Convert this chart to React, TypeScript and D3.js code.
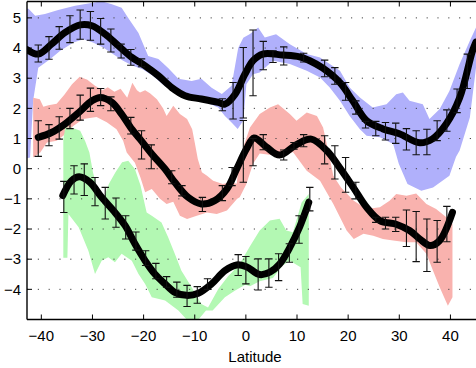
import React from 'react';
import * as d3 from 'd3';

type Pt = [number, number];
type Bar = [number, number, number];

// x ticks / y ticks
const xTicks = [-40, -30, -20, -10, 0, 10, 20, 30, 40];
const yTicks = [-4, -3, -2, -1, 0, 1, 2, 3, 4, 5];

// shaded envelopes (upper edge left->right, lower edge left->right)
const blueUpper: Pt[] = [
  [-42.8, 5.3], [-42.5, 5.3], [-41.2, 5.07], [-39.3, 5.13], [-36.7, 5.26], [-33.4, 5.4], [-28.2, 5.55],
  [-26.2, 5.45], [-24.3, 5.34], [-23, 5.0], [-21, 4.5], [-19.1, 3.74], [-17.1, 3.64], [-15.2, 3.34],
  [-13.2, 2.98], [-10.6, 2.91], [-8.7, 2.98], [-6.7, 2.68], [-4.7, 2.48], [-2.8, 2.75], [-1.5, 4.0],
  [-0.5, 4.34], [0.8, 4.47], [2.4, 4.68], [3.7, 4.35], [5.9, 4.46], [8.6, 4.13], [11.9, 3.8],
  [14.5, 3.69], [16.4, 3.47], [18.4, 3.25], [20.3, 2.69], [22.3, 2.36], [24.8, 2.03], [27.5, 2.14],
  [29.4, 2.47], [30.7, 2.53], [32, 2.25], [34.6, 2.14], [35.9, 1.65], [37.9, 1.98], [39.8, 2.58],
  [41.8, 3.47], [43.8, 4.24], [45, 4.68],
];
const blueLower: Pt[] = [
  [-42.8, 0.35], [-42.2, 0.37], [-41.6, 2.25], [-40.6, 3.35], [-38.3, 3.63], [-36.3, 3.91], [-33.7, 4.18],
  [-31.8, 4.29], [-29.9, 4.18], [-27.9, 4.02], [-26, 3.8], [-24, 3.58], [-22.1, 3.41], [-20.2, 3.3],
  [-18.2, 3.08], [-16.3, 2.8], [-14.3, 2.58], [-11.9, 2.42], [-8.6, 2.25], [-5.4, 2.03], [-4.1, 1.75],
  [-2.8, 1.53], [-1.6, 1.32], [-0.5, 1.6], [0.1, 2.8], [1.4, 3.13], [2.7, 3.19], [5.3, 3.58],
  [8.6, 3.47], [11.9, 3.25], [14.5, 3.02], [16.4, 2.69], [18.4, 2.25], [20.3, 1.75], [22.3, 1.31],
  [23.6, 1.09], [26.2, 1.04], [28.8, 0.82], [29.9, 0.16], [31.6, -0.51], [34.3, -0.73], [36.6, -0.62],
  [39.8, -0.23], [41.1, 0.4], [41.8, 0.6], [43.8, 1.7], [45, 3.35],
];

const redUpper: Pt[] = [
  [-41.6, 2.35], [-40.3, 2.3], [-39.6, 2.05], [-38.6, 2.1], [-37, 2.15], [-35.5, 2.45], [-34, 2.8],
  [-32.5, 3.05], [-31, 2.95], [-29.5, 2.75], [-28, 2.6], [-27, 2.7], [-25.7, 2.55], [-24.5, 2.65],
  [-23.2, 2.35], [-22.2, 2.85], [-21.3, 2.6], [-20.7, 2.53], [-19.7, 2.6], [-18.75, 2.5], [-17.4, 2.3],
  [-16.2, 2.0], [-15.5, 1.75], [-14.2, 2.09], [-12.9, 1.81], [-11.5, 1.65], [-10.5, 1.31], [-10, 0.87],
  [-9.4, 0.32], [-8.6, -0.12], [-7.6, -0.23], [-6.4, -0.4], [-4.5, -0.51], [-3.1, -0.45], [-1.8, -0.5],
  [-1.2, 0.37], [0.8, 1.37], [2.7, 1.81], [4.7, 2.03], [6.3, 2.14], [8.6, 1.81], [9.9, 1.59],
  [11.9, 1.86], [13.9, 1.75], [15.1, 1.37], [16.1, 0.6], [17.1, -0.23], [18.6, -0.62], [21.1, -1.06],
  [23.6, -1.34], [26.2, -1.28], [28.1, -1.06], [29.4, -0.84], [31.4, -0.9], [33.3, -0.82], [35.3, -1.17],
  [37.2, -1.34], [39.2, -1.61], [40.4, -1.83],
];
const redLower: Pt[] = [
  [-41.6, 0.37], [-40.2, 0.54], [-38.9, 0.87], [-37, 0.93], [-35.7, 1.09], [-33.7, 1.42], [-31.8, 1.65],
  [-29.2, 1.71], [-27.2, 1.54], [-25.3, 1.31], [-24, 0.93], [-23.3, 0.54], [-21.7, 0.2], [-20.6, -0.3],
  [-19.7, -0.78], [-18.4, -0.67], [-16.8, -1.0], [-15.5, -1.17], [-14.2, -1.1], [-12.9, -1.56],
  [-11.5, -1.67], [-9.6, -1.56], [-7.6, -1.45], [-5.7, -1.5], [-3.7, -1.39], [-1.7, -1.0], [-1.2, -0.95],
  [0.1, -0.51], [1.4, 0.16], [2.7, 0.5], [5, 0.45], [7.5, 0.45], [9.2, 0.55], [11.9, -0.07],
  [14.5, -0.4], [17.1, -1.17], [19.7, -2.05], [21.1, -2.33], [23, -2.16], [24.9, -2.22], [26.8, -2.33],
  [28.8, -2.38], [31.4, -2.44], [33.3, -2.44], [35.3, -2.82], [36.6, -3.38], [37.9, -3.93], [39.5, -4.54],
  [40.4, -4.26],
];

const greenUpper: Pt[] = [
  [-35.7, 0.98], [-35.3, 1.37], [-34.1, 1.37], [-32.4, 1.26], [-31.4, 0.9], [-30.6, 0.54], [-29.9, -0.12],
  [-28.9, -0.78], [-28.2, -1.17], [-26.8, -0.51], [-25.5, -0.12], [-24.2, 0.21], [-23, 0.26],
  [-21.7, -0.01], [-20.6, -0.56], [-19.4, -1.45], [-18.4, -1.56], [-16.5, -1.78], [-15.2, -2.27],
  [-13.9, -2.82], [-12.6, -3.38], [-10.6, -3.93], [-8.7, -4.49], [-7.4, -4.6], [-5.4, -3.99],
  [-3.4, -3.55], [-1.4, -3.21], [0.8, -2.57], [2.7, -2.05], [4.7, -1.72], [6.6, -1.66], [7.9, -2.05],
  [9.2, -2.11], [10.9, -1.12], [12.3, -0.84],
];
const greenLower: Pt[] = [
  [-35.7, -2.95], [-34.9, -2.95], [-34.7, -1.5], [-32.7, -1.94], [-30.8, -2.72], [-29.5, -3.49],
  [-28.2, -3.05], [-26.9, -2.94], [-25.6, -3.1], [-24.3, -2.82], [-22.3, -3.05], [-21, -3.49],
  [-19.7, -3.82], [-18.4, -4.26], [-15.8, -4.37], [-13.2, -4.7], [-11.3, -5.05], [-9.5, -5.05],
  [-7.8, -4.7], [-6.5, -4.7], [-4.1, -4.26], [-2.1, -4.04], [-0.1, -3.85], [0.8, -3.9], [2.7, -3.73],
  [5.3, -3.62], [7.2, -3.21], [8.6, -3.05], [10.7, -3.27], [11.1, -4.49], [12.3, -4.54],
];

// smoothed curves
const blueLine: Pt[] = [
  [-42.8, 3.95], [-40.6, 3.8], [-38, 4.13], [-35.4, 4.51], [-32.4, 4.77], [-30.1, 4.74], [-27.5, 4.46],
  [-24.9, 4.07], [-22.3, 3.69], [-19.7, 3.41], [-17.1, 3.08], [-14.5, 2.69], [-11.9, 2.42], [-8.7, 2.31],
  [-5.4, 2.2], [-4.1, 2.14], [-2.1, 2.47], [-0.2, 3.13], [1.4, 3.58], [3.3, 3.8], [7.2, 3.77],
  [10.5, 3.71], [12.5, 3.58], [15, 3.34], [18.4, 2.85], [20.9, 2.25], [23.6, 1.59], [26.8, 1.32],
  [30, 1.16], [34, 0.86], [36.5, 0.99], [39.2, 1.49], [41.8, 2.35], [44.3, 3.9], [45, 4.2],
];
const redLine: Pt[] = [
  [-40.6, 1.04], [-38, 1.2], [-35.4, 1.48], [-32.7, 1.86], [-30.1, 2.25], [-28.5, 2.36], [-26.2, 2.2],
  [-24.3, 1.81], [-22.3, 1.31], [-20.7, 0.98], [-18.4, 0.49], [-15.8, -0.01], [-13.9, -0.45],
  [-11.3, -0.95], [-8.7, -1.17], [-6.1, -1.06], [-3.7, -0.67], [-1.8, -0.01], [0.1, 0.65], [1.6, 1.02],
  [4.0, 0.72], [6.6, 0.45], [9.9, 0.8], [12.8, 0.98], [15.8, 0.6], [18.4, 0.02], [21, -0.62],
  [23.6, -1.28], [26.2, -1.72], [29.5, -1.85], [32, -2.05], [34, -2.33], [36, -2.55], [37.9, -2.38],
  [40.4, -1.45],
];
const greenLine: Pt[] = [
  [-35.8, -0.89], [-34.1, -0.4], [-32.6, -0.27], [-30.5, -0.45], [-28.2, -0.95], [-25.6, -1.45],
  [-23.6, -1.89], [-21.7, -2.49], [-19.7, -3.05], [-17.8, -3.49], [-15.8, -3.82], [-13.9, -4.1],
  [-11.6, -4.2], [-9.3, -4.13], [-6.7, -3.82], [-4.1, -3.38], [-1.8, -3.19], [0.1, -3.25], [2.7, -3.51],
  [4.7, -3.43], [6.6, -3.16], [8.6, -2.61], [10.5, -1.94], [12.3, -1.12],
];

// error bars: [lat, low, high]
const blueBars: Bar[] = [
  [-40.6, 3.54, 4.1], [-38.5, 3.63, 4.38], [-36.5, 3.96, 4.71], [-34.4, 4.18, 5.07], [-32.4, 4.29, 5.26],
  [-30.4, 4.26, 5.21], [-28.4, 4.13, 4.98], [-26.4, 3.87, 4.63], [-24.4, 3.67, 4.13], [-22.5, 3.43, 3.95],
  [-20.4, 3.38, 3.64], [-4.6, 1.92, 2.32], [-2.5, 1.65, 2.86], [-0.5, 1.68, 4.02], [1.4, 2.42, 4.6],
  [3.4, 3.28, 4.22], [5.3, 3.52, 3.91], [7.4, 3.44, 4.04], [11.3, 3.54, 3.83], [15.4, 3.05, 3.6],
  [17.4, 2.8, 3.35], [19.5, 2.27, 2.86], [21.5, 1.81, 2.25], [23.4, 1.35, 1.57], [25.4, 1.09, 1.57],
  [27.3, 0.95, 1.53], [29.3, 0.84, 1.51], [31.4, 0.62, 1.33], [33.3, 0.46, 1.26], [35.4, 0.46, 1.31],
  [37.4, 0.93, 1.59], [39.3, 1.24, 1.95], [41.3, 1.86, 2.64], [43.3, 2.66, 3.8],
];
const redBars: Bar[] = [
  [-40.6, 0.41, 1.59], [-38.5, 0.76, 1.46], [-36.5, 0.98, 1.72], [-34.4, 1.33, 2.0], [-32.4, 1.61, 2.44],
  [-30.4, 1.9, 2.67], [-28.4, 2.09, 2.66], [-26.4, 1.92, 2.38], [-22.5, 1.15, 1.7], [-20.4, 0.32, 1.26],
  [-18.5, 0.0, 0.79], [-14.5, -0.5, -0.07], [-12.5, -0.9, -0.56], [-8.5, -1.42, -0.95], [-4.6, -1.06, -0.56],
  [-2.7, -0.56, 0.04], [-0.5, -0.45, 1.6], [1.4, 0.1, 1.0], [3.4, 0.63, 1.13], [7.4, 0.29, 0.62],
  [9.4, 0.65, 0.87], [11.3, 0.73, 1.13], [15.4, 0.16, 1.09], [17.4, -0.34, 0.76], [19.5, -0.78, 0.37],
  [21.5, -1.0, -0.45], [25.4, -1.78, -1.61], [27.3, -2.0, -1.61], [29.3, -2.08, -1.61], [31.4, -2.58, -1.37],
  [33.3, -3.08, -1.42], [35.4, -3.41, -1.67], [37.4, -3.1, -1.72], [39.3, -2.42, -1.25],
];
const greenBars: Bar[] = [
  [-35.6, -1.45, -0.42], [-33.6, -0.84, 0.1], [-31.6, -0.89, 0.16], [-29.5, -1.23, -0.29],
  [-27.5, -1.67, -0.62], [-25.4, -1.94, -0.97], [-23.5, -2.33, -1.56], [-21.5, -2.7, -2.1],
  [-19.6, -3.21, -2.72], [-17.6, -3.65, -3.14], [-15.5, -3.93, -3.58], [-13.5, -4.26, -3.76],
  [-11.5, -4.57, -3.87], [-9.5, -4.46, -3.91], [-7.5, -4.0, -3.65], [-1.5, -3.54, -2.85], [0, -3.82, -2.91],
  [2.4, -4.02, -2.99], [4.5, -3.93, -2.99], [6.4, -3.71, -2.82], [8.5, -3.1, -2.49], [10.4, -2.47, -1.56],
  [12.5, -1.4, -0.62],
];

const W = 476;
const H = 368;
const left = 27;
const right = 476;
const top = 1.5;
const bottom = 319.5;

const x = d3.scaleLinear().domain([-42.8, 45]).range([left, right]);
const y = d3.scaleLinear().domain([-5.0, 5.56]).range([bottom, 1]);

const bandPath = (up: Pt[], lo: Pt[]) => {
  const pts = up.concat(lo.slice().reverse());
  return d3.line<Pt>().x(d => x(d[0])).y(d => y(d[1]))(pts) + 'Z';
};
const curve = d3.line<Pt>().x(d => x(d[0])).y(d => y(d[1])).curve(d3.curveCatmullRom.alpha(0.5));

const fmt = (v: number) => (v < 0 ? '\u2212' + Math.abs(v) : String(v));
const font = '"Liberation Sans", Arial, Helvetica, sans-serif';

const ErrBars = ({ bars }: { bars: Bar[] }) => (
  <g stroke="#111" strokeWidth={1.1} fill="none">
    {bars.map((b, i) => {
      const cx = x(b[0]);
      return (
        <g key={i}>
          <line x1={cx} x2={cx} y1={y(b[1])} y2={y(b[2])} />
          <line x1={cx - 3.7} x2={cx + 3.7} y1={y(b[1])} y2={y(b[1])} />
          <line x1={cx - 3.7} x2={cx + 3.7} y1={y(b[2])} y2={y(b[2])} />
        </g>
      );
    })}
  </g>
);

export default function App() {
  return (
    <svg width={W} height={H} style={{ position: 'absolute', left: 0, top: 0, background: '#fff' }}>
      <defs>
        <clipPath id="plot">
          <rect x={left} y={top} width={right - left} height={bottom - top} />
        </clipPath>
      </defs>
      <g clipPath="url(#plot)">
        <path d={bandPath(blueUpper, blueLower)} fill="#b0b0fb" />
        <path d={bandPath(redUpper, redLower)} fill="#f9b2ae" />
        <path d={bandPath(greenUpper, greenLower)} fill="#b3f8b3" />
        {yTicks.map(t => (
          <line key={t} x1={left} x2={right} y1={y(t)} y2={y(t)} stroke="#444" strokeWidth={1} strokeDasharray="1.2 9.6" />
        ))}
        <path d={curve(blueLine) || ''} fill="none" stroke="#000" strokeWidth={7} strokeLinecap="round" />
        <path d={curve(redLine) || ''} fill="none" stroke="#000" strokeWidth={7} strokeLinecap="round" />
        <path d={curve(greenLine) || ''} fill="none" stroke="#000" strokeWidth={7} strokeLinecap="round" />
        <ErrBars bars={blueBars} />
        <ErrBars bars={redBars} />
        <ErrBars bars={greenBars} />
      </g>
      {/* frame */}
      <g stroke="#000" strokeWidth={1.4}>
        <line x1={left} x2={right} y1={bottom} y2={bottom} />
        <line x1={left} x2={right} y1={top} y2={top} />
        <line x1={left} x2={left} y1={top} y2={bottom} />
        {xTicks.map(t => (
          <g key={t}>
            <line x1={x(t)} x2={x(t)} y1={bottom} y2={bottom - 5} strokeWidth={1} />
            <line x1={x(t)} x2={x(t)} y1={top} y2={top + 5} strokeWidth={1} />
          </g>
        ))}
        {yTicks.map(t => (
          <line key={t} x1={left} x2={left + 5} y1={y(t)} y2={y(t)} strokeWidth={1} />
        ))}
      </g>
      <g fontFamily={font} fontSize={15} fill="#000">
        {xTicks.map(t => (
          <text key={t} x={x(t)} y={340.5} textAnchor="middle">{fmt(t)}</text>
        ))}
        {yTicks.map(t => (
          <text key={t} x={21} y={y(t)} dy="0.35em" textAnchor="end">{fmt(t)}</text>
        ))}
        <text x={255} y={361.5} textAnchor="middle">Latitude</text>
      </g>
    </svg>
  );
}
